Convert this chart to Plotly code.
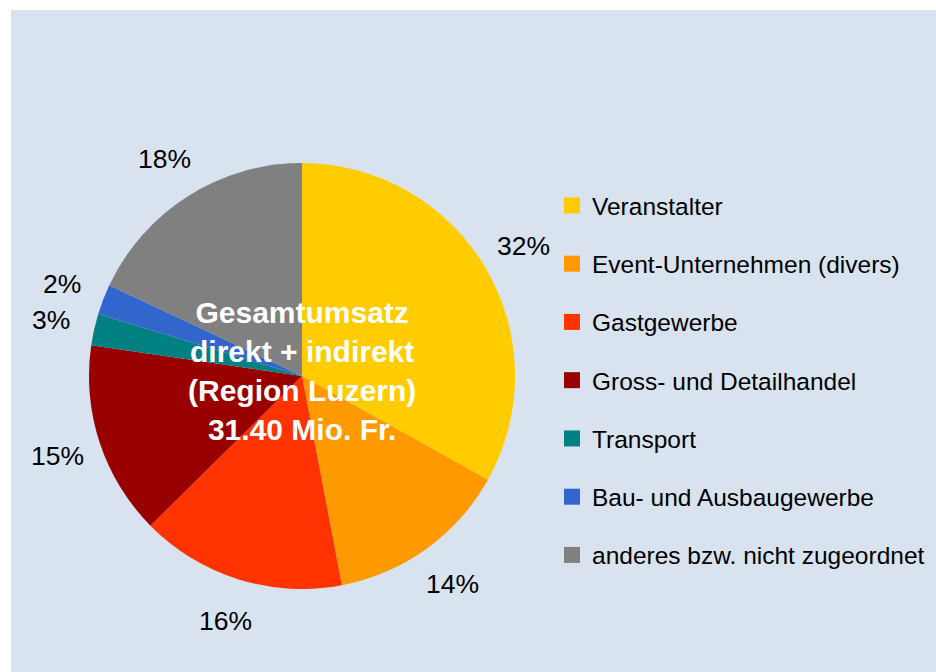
import math
import plotly.graph_objects as go

# ---- data ----
categories = ["Veranstalter", "Event-Unternehmen (divers)", "Gastgewerbe",
              "Gross- und Detailhandel", "Transport", "Bau- und Ausbaugewerbe",
              "anderes bzw. nicht zugeordnet"]
shares = [33.1, 13.9, 15.6, 14.7, 2.4, 2.3, 18.0]
share_labels = ["32%", "14%", "16%", "15%", "3%", "2%", "18%"]
colors = ["#FFCC00", "#FF9900", "#FF3300", "#990000", "#008080", "#3366CC", "#808080"]
center_text = "Gesamtumsatz<br>direkt + indirekt<br>(Region Luzern)<br>31.40 Mio. Fr."

# ---- layout constants ----
W, H = 936, 672
CX, CY, R = 302.0, 376.0, 213.0
LABEL_R = 257.0
FONT = "Liberation Sans, Arial, Helvetica, sans-serif"
PANEL = "#D9E3EF"

fig = go.Figure()
fig.add_trace(go.Pie(
    labels=categories, values=shares, sort=False, direction="clockwise", rotation=0,
    marker=dict(colors=colors, line=dict(width=0)),
    textinfo="none", hoverinfo="label+percent", showlegend=False,
    domain=dict(x=[(CX - R) / W, (CX + R) / W], y=[1 - (CY + R) / H, 1 - (CY - R) / H]),
))

# legend entries built from categories/colors
for cat, col in zip(categories, colors):
    fig.add_trace(go.Scatter(
        x=[None], y=[None], mode="markers", name=cat, legendgroup=cat,
        marker=dict(symbol="square", size=17, color=col), showlegend=True,
    ))

# percentage labels at mid-angle of each slice
total = sum(shares)
cum = 0.0
annotations = []
for val, lab in zip(shares, share_labels):
    mid = (cum + val / 2) / total * 2 * math.pi
    cum += val
    px = CX + LABEL_R * math.sin(mid)
    py = CY - LABEL_R * math.cos(mid)
    annotations.append(dict(x=px / W, y=1 - py / H, xref="paper", yref="paper",
                            text=lab, showarrow=False,
                            font=dict(family=FONT, size=26.5, color="#000000"),
                            xanchor="center", yanchor="middle"))

annotations.append(dict(x=CX / W, y=1 - 371 / H, xref="paper", yref="paper",
                        text="<b>" + center_text + "</b>", showarrow=False,
                        font=dict(family=FONT, size=30, color="#FFFFFF"),
                        xanchor="center", yanchor="middle", align="center"))

fig.update_layout(
    width=W, height=H,
    margin=dict(l=0, r=0, t=0, b=0),
    paper_bgcolor="#FFFFFF", plot_bgcolor="rgba(0,0,0,0)",
    xaxis=dict(visible=False), yaxis=dict(visible=False),
    font=dict(family=FONT, color="#000000"),
    shapes=[dict(type="rect", xref="paper", yref="paper", x0=11 / W, x1=1, y0=0, y1=1 - 10 / H,
                 fillcolor=PANEL, line=dict(width=0), layer="below")],
    annotations=annotations,
    legend=dict(x=552 / W, y=1 - 183 / H, xanchor="left", yanchor="top",
                font=dict(family=FONT, size=24.5, color="#000000"),
                bgcolor="rgba(0,0,0,0)", tracegroupgap=23.4, itemsizing="trace",
                itemclick=False, itemdoubleclick=False),
)

fig.write_html("out.html",
               config={"displayModeBar": False},
               post_script="document.body.style.margin='0';document.body.style.overflow='hidden';")
